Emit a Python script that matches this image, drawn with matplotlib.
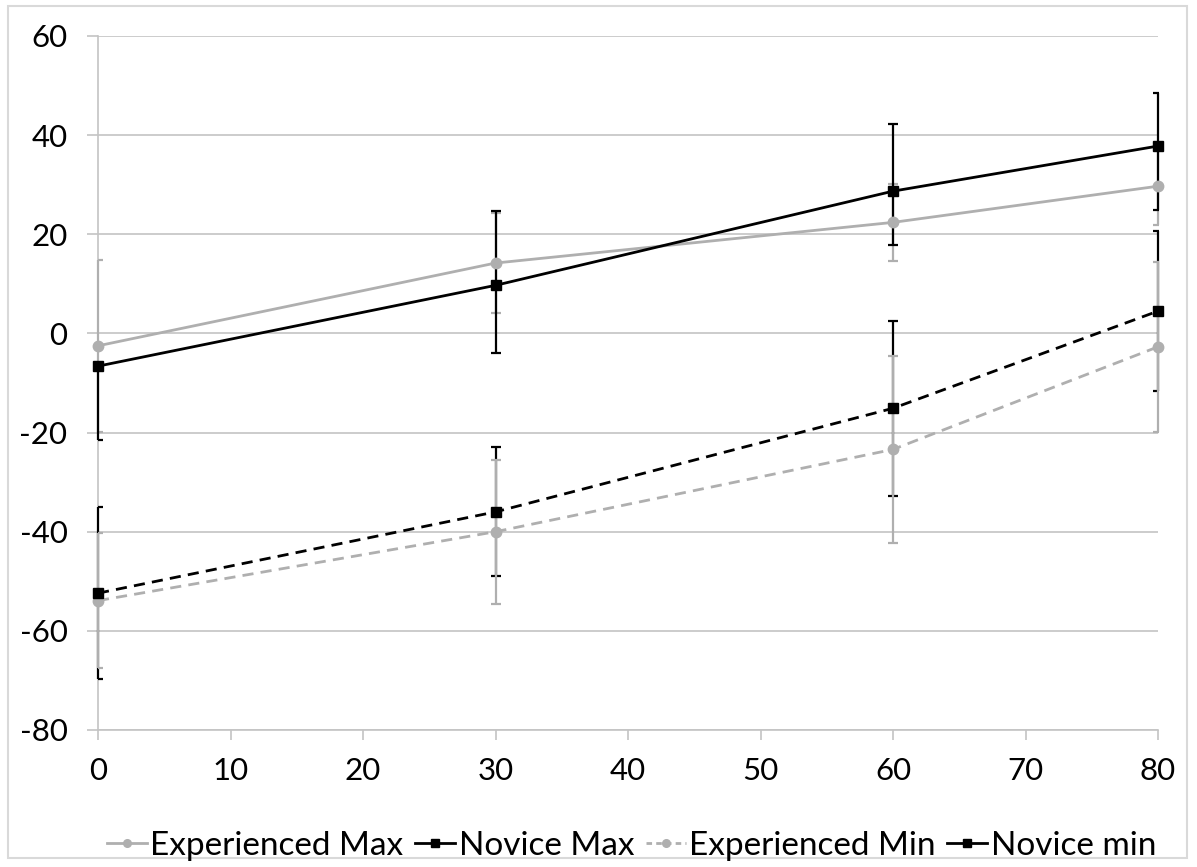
import matplotlib
matplotlib.use("Agg")
import matplotlib.pyplot as plt
from matplotlib.patches import Rectangle
from matplotlib.lines import Line2D

# ---- data ----
x = [0, 30, 60, 80]

exp_max = [-2.5, 14.2, 22.4, 29.7]
exp_max_err = [17.3, 10.1, 7.7, 7.8]

nov_max = [-6.6, 9.7, 28.7, 37.8]
nov_max_err_lo = [14.8, 13.7, 10.9, 13.0]
nov_max_err_hi = [0.0, 14.9, 13.5, 10.8]

exp_min = [-53.9, -40.0, -23.4, -2.7]
exp_min_err = [13.6, 14.5, 18.8, 17.2]

nov_min = [-52.4, -36.0, -15.1, 4.5]
nov_min_err = [17.4, 13.0, 17.6, 16.2]

labels = ["Experienced Max", "Novice Max", "Experienced Min", "Novice min"]
yticks = [-80, -60, -40, -20, 0, 20, 40, 60]
xticks = [0, 10, 20, 30, 40, 50, 60, 70, 80]

# ---- style ----
plt.rcParams['font.family'] = ['Lato', 'DejaVu Sans']
GRAY = '#AFAFAF'
BLACK = '#000000'
GRID = '#C4C4C4'

fig = plt.figure(figsize=(11.97, 8.67), dpi=100)
ax = fig.add_axes([98/1197, 1-730/867, (1158-98)/1197, (730-36)/867])

def ebar(y, err, color, z):
    res = ax.errorbar(x, y, yerr=err, fmt='none', ecolor=color, elinewidth=1.6,
                      capsize=3.5, capthick=1.6, zorder=z)
    _, caps, bars = res.lines
    for b in bars:
        b.set_clip_on(False)
    for c in caps:
        c.set_clip_on(True)

# error bars (order of layering)
ebar(exp_max, exp_max_err, GRAY, 3)
ebar(nov_max, [nov_max_err_lo, nov_max_err_hi], BLACK, 4)
ebar(nov_min, nov_min_err, BLACK, 5)
ebar(exp_min, exp_min_err, GRAY, 6)

lw = 2.0
l1, = ax.plot(x, exp_max, color=GRAY, lw=lw, marker='o', ms=7.5, zorder=10, clip_on=False)
l2, = ax.plot(x, nov_max, color=BLACK, lw=lw, marker='s', ms=7, zorder=11, clip_on=False)
l3, = ax.plot(x, exp_min, color=GRAY, lw=lw, marker='o', ms=7.5, zorder=12, clip_on=False,
              dashes=(4, 2.6))
l4, = ax.plot(x, nov_min, color=BLACK, lw=lw, marker='s', ms=7, zorder=13, clip_on=False,
              dashes=(4, 2.6))

ax.set_xlim(0, 80)
ax.set_ylim(-80, 60)
ax.set_xticks(xticks)
ax.set_yticks(yticks)
ax.set_yticklabels([str(v) for v in yticks])
ax.grid(axis='y', color=GRID, lw=1.2, zorder=0)
ax.set_axisbelow(True)
for s in ['top', 'right']:
    ax.spines[s].set_visible(False)
for s in ['left', 'bottom']:
    ax.spines[s].set_color(GRID)
    ax.spines[s].set_linewidth(1.2)
ax.tick_params(axis='y', direction='out', length=8, width=1.2, color=GRID,
               labelsize=22.5, pad=14)
ax.tick_params(axis='x', direction='out', length=7.5, width=1.2, color=GRID,
               labelsize=22.5, pad=12)

h1 = Line2D([], [], color=GRAY, lw=lw, marker='o', ms=5.5)
h2 = Line2D([], [], color=BLACK, lw=lw, marker='s', ms=5.5)
h3 = Line2D([], [], color=GRAY, lw=lw, marker='o', ms=5.5, dashes=(2, 1.5))
h4 = Line2D([], [], color=BLACK, lw=lw, marker='s', ms=5.5)
leg = fig.legend([h1, h2, h3, h4], labels, loc='center',
                 bbox_to_anchor=(0.5 + 33/1197, 1-846/867),
                 ncol=4, frameon=False, fontsize=24, handlelength=1.2,
                 handletextpad=0.1, columnspacing=0.35, borderpad=0)

fig.patches.append(Rectangle((8/1197, 1-858/867), (1187-8)/1197, (858-6)/867,
                             transform=fig.transFigure, fill=False,
                             edgecolor='#D9D9D9', lw=1.5))

fig.savefig('out.png', dpi=100)
